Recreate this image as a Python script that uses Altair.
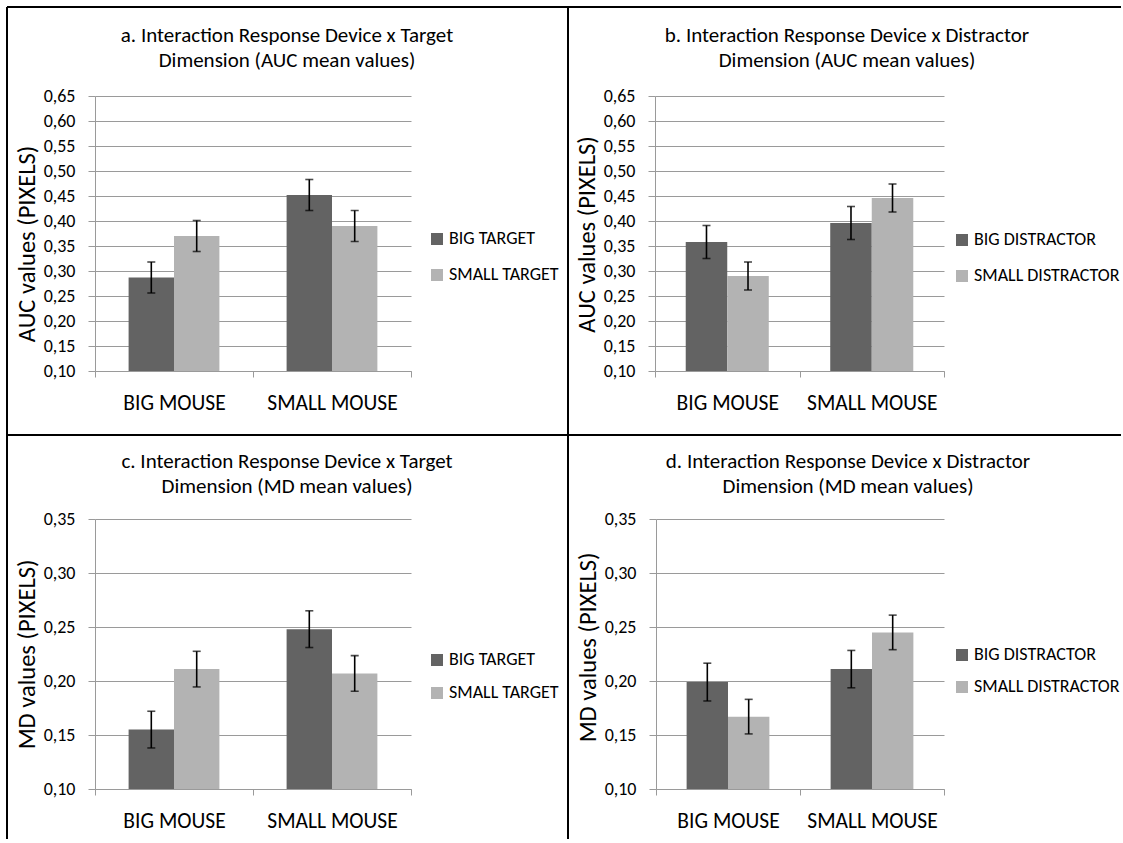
import altair as alt
import pandas as pd

FONT = "Carlito, Lato, sans-serif"
GRID = "#9a9a9a"
DARK = "#636363"
LIGHT = "#b3b3b3"
ZWNJ = "\u200c"  # keeps "ti" from fusing into a ligature

devices = ["BIG MOUSE", "SMALL MOUSE"]
target_levels = ["BIG TARGET", "SMALL TARGET"]
distractor_levels = ["BIG DISTRACTOR", "SMALL DISTRACTOR"]

# order of every series: BIG MOUSE (big, small), SMALL MOUSE (big, small)
auc_target_mean = [0.287, 0.370, 0.452, 0.390]
auc_target_err = [0.031, 0.031, 0.031, 0.031]
auc_distractor_mean = [0.358, 0.290, 0.396, 0.446]
auc_distractor_err = [0.033, 0.028, 0.033, 0.028]
md_target_mean = [0.155, 0.211, 0.248, 0.207]
md_target_err = [0.017, 0.0165, 0.017, 0.0165]
md_distractor_mean = [0.199, 0.167, 0.211, 0.245]
md_distractor_err = [0.0175, 0.016, 0.0173, 0.016]

auc_ticks = [0.10, 0.15, 0.20, 0.25, 0.30, 0.35, 0.40, 0.45, 0.50, 0.55, 0.60, 0.65]
md_ticks = [0.10, 0.15, 0.20, 0.25, 0.30, 0.35]

inter = "Interac" + ZWNJ + "tion"
titles = {
    "a": f"a. {inter} Response Device x Target\nDimension (AUC mean values)",
    "b": f"b. {inter} Response Device x Distractor\nDimension (AUC mean values)",
    "c": f"c. {inter} Response Device x Target\nDimension (MD mean values)",
    "d": f"d. {inter} Response Device x Distractor\nDimension (MD mean values)",
}

ONE = pd.DataFrame({"k": [0]})


def hline(x1, x2, y):
    return alt.Chart(ONE).mark_rule(color="black", strokeWidth=2).encode(
        x=alt.value(x1), x2=alt.value(x2), y=alt.value(y))


def vline(x, y1, y2):
    return alt.Chart(ONE).mark_rule(color="black", strokeWidth=2).encode(
        x=alt.value(x), y=alt.value(y1), y2=alt.value(y2))


def panel(means, errs, levels, ticks, ytitle, title, w, h, legend_xy,
          title_y, ytitle_y, frame):
    rows = []
    i = 0
    for d in devices:
        for lv in levels:
            rows.append({"device": d, "level": lv, "mean": means[i],
                         "lo": means[i] - errs[i], "hi": means[i] + errs[i]})
            i += 1
    df = pd.DataFrame(rows)

    x_enc = alt.X("device:N", sort=devices,
                  scale=alt.Scale(domain=devices, paddingInner=0, paddingOuter=0),
                  axis=alt.Axis(title=None, labelAngle=0, labelFont=FONT,
                                labelFontSize=21.5, labelColor="black",
                                labelPadding=15, tickBand="extent", tickSize=6,
                                tickColor=GRID, domainColor=GRID, grid=False))
    xo_enc = alt.XOffset("level:N", sort=levels,
                         scale=alt.Scale(domain=levels, paddingInner=0,
                                         paddingOuter=0.74))
    y_scale = alt.Scale(domain=[ticks[0], ticks[-1]], nice=False, zero=False)
    y_axis = alt.Axis(values=ticks, tickCount=len(ticks),
                      labelExpr="replace(format(datum.value, '.2f'), '.', ',')",
                      labelFont=FONT, labelFontSize=18, labelColor="black",
                      labelPadding=13, tickSize=7, tickColor=GRID,
                      labelOverlap=False,
                      domainColor=GRID, gridColor=GRID, grid=True,
                      title=ytitle, titleFont=FONT, titleFontSize=24.5,
                      titleFontWeight="normal", titleColor="black",
                      titleAngle=270, titleX=-68, titleY=ytitle_y,
                      titleAlign="center", titleBaseline="middle")

    base = alt.Chart(df)
    bars = base.mark_bar().encode(
        x=x_enc, xOffset=xo_enc,
        y=alt.Y("mean:Q", scale=y_scale, axis=y_axis),
        y2=alt.datum(ticks[0]),
        color=alt.Color("level:N", title=None,
                        scale=alt.Scale(domain=levels, range=[DARK, LIGHT]),
                        legend=alt.Legend(orient="none", legendX=legend_xy[0],
                                          legendY=legend_xy[1], padding=0,
                                          symbolType="square", symbolSize=144,
                                          symbolStrokeWidth=0, labelFont=FONT,
                                          labelFontSize=18, labelColor="black",
                                          labelOffset=3, rowPadding=legend_xy[2])),
    )
    stems = base.mark_rule(color="black", strokeWidth=1.6).encode(
        x=alt.X("device:N", sort=devices), xOffset=alt.XOffset("level:N", sort=levels),
        y="lo:Q", y2="hi:Q")
    cap_lo = base.mark_tick(color="black", size=8, thickness=1.6).encode(
        x=alt.X("device:N", sort=devices), xOffset=alt.XOffset("level:N", sort=levels),
        y="lo:Q")
    cap_hi = base.mark_tick(color="black", size=8, thickness=1.6).encode(
        x=alt.X("device:N", sort=devices), xOffset=alt.XOffset("level:N", sort=levels),
        y="hi:Q")

    head = alt.Chart(pd.DataFrame({"t": [title]})).mark_text(
        lineBreak="\n", font=FONT, fontSize=21, align="center",
        baseline="alphabetic", lineHeight=25, color="black").encode(
        x=alt.value(192), y=alt.value(title_y), text="t:N")

    return alt.layer(bars, stems, cap_lo, cap_hi, head, *frame).properties(
        width=w, height=h)


pa = panel(auc_target_mean, auc_target_err, target_levels, auc_ticks,
           "AUC values (PIXELS)", titles["a"], 316, 275, (333, 134, 18),
           -54, 147.5,
           [hline(-88, 473, -89), vline(-88, -89, 339), vline(473, -89, 339),
            hline(-88, 473, 339)])
pb = panel(auc_distractor_mean, auc_distractor_err, distractor_levels, auc_ticks,
           "AUC values (PIXELS)", titles["b"], 289, 275, (298, 135, 18),
           -54, 138,
           [hline(-87, 466, -89), vline(-87, -89, 339), hline(-87, 466, 339)])
pc = panel(md_target_mean, md_target_err, target_levels, md_ticks,
           "MD values (PIXELS)", titles["c"], 316, 270, (333, 132, 15),
           -51, 135,
           [hline(-88, 473, -84), vline(-88, -84, 320), vline(473, -84, 320)])
pd_ = panel(md_distractor_mean, md_distractor_err, distractor_levels, md_ticks,
            "MD values (PIXELS)", titles["d"], 288, 270, (297, 127, 14),
            -51, 128,
            [hline(-88, 465, -84), vline(-88, -84, 320)])

indep = dict(x="independent", y="independent", color="independent",
             xOffset="independent")
top = alt.hconcat(pa, pb, spacing=-2).resolve_scale(**indep)
bottom = alt.hconcat(pc, pd_, spacing=-2).resolve_scale(**indep)

chart = alt.vconcat(top, bottom, spacing=-2).resolve_scale(**indep).properties(
    padding={"left": 6, "top": 6, "right": 0, "bottom": 0},
    background="white",
).configure_view(strokeWidth=0)

chart.save("out.html", embed_options={"renderer": "svg", "actions": False})
